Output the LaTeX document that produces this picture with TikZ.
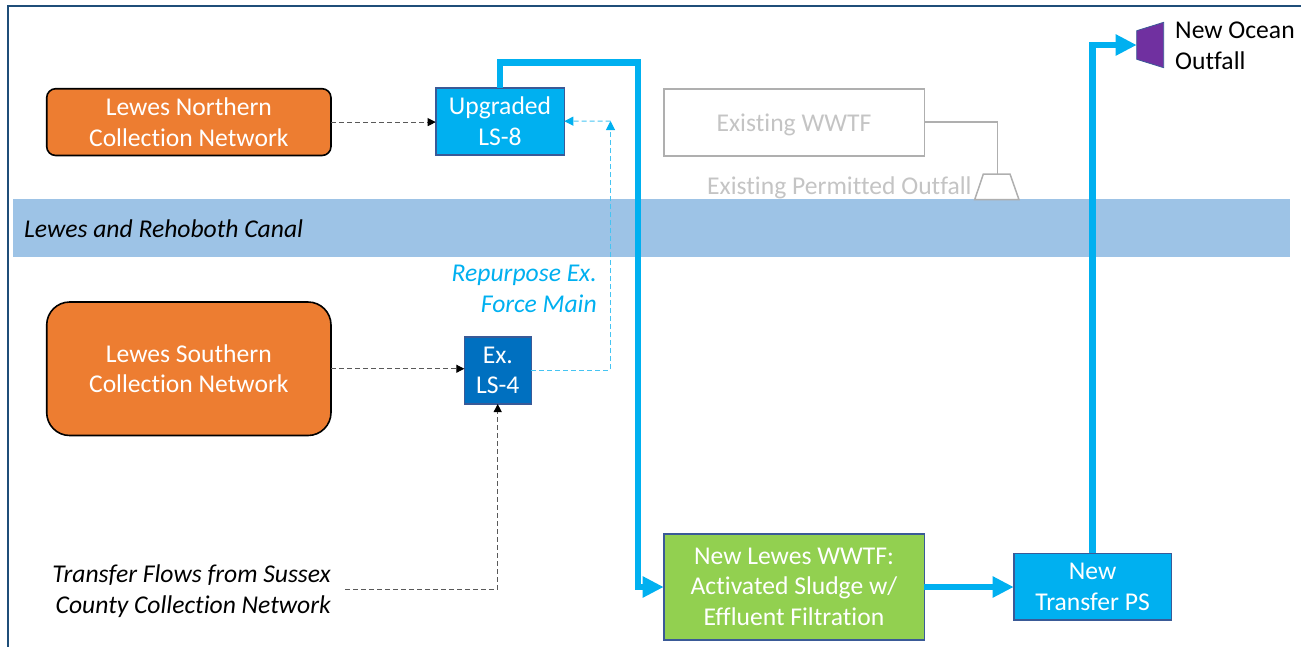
\documentclass[tikz,border=0pt]{standalone}
\usepackage{fontspec}
\setmainfont[Ligatures=NoCommon]{Carlito}
\usetikzlibrary{arrows.meta,calc}
\definecolor{frameblue}{HTML}{1F4E79}
\definecolor{orangebox}{HTML}{ED7D31}
\definecolor{skyblue}{HTML}{00B0F0}
\definecolor{darkblue}{HTML}{0070C0}
\definecolor{greenbox}{HTML}{92D050}
\definecolor{canalblue}{HTML}{9DC3E6}
\definecolor{edgeblue}{HTML}{3A5A97}
\definecolor{ghost}{HTML}{AFAFAF}
\definecolor{ghosttext}{HTML}{C4C4C4}
\definecolor{purplebox}{HTML}{7030A0}
\definecolor{dashblue}{HTML}{45C4F2}
\tikzset{
  x=1pt,y=-1pt,
  txt/.style={font=\fontsize{25.6}{30.5}\selectfont},
  box/.style={txt,draw,line width=1.6pt,align=center,text=white,inner sep=0pt,outer sep=0pt,anchor=north west,execute at begin node={\rule{0pt}{20pt}}},
  thick flow/.style={draw=skyblue,line width=6.2pt,-{Triangle[length=21pt,width=20pt]}},
  thin black/.style={draw=black!65,line width=1pt,dash pattern=on 5pt off 3pt,-{Triangle[length=8pt,width=8pt,color=black]}},
  thin blue/.style={draw=dashblue,line width=1pt,dash pattern=on 5pt off 3pt,-{Triangle[length=9pt,width=9pt,color=skyblue]}},
}
\begin{document}
\begin{tikzpicture}
\useasboundingbox (0,0) rectangle (1301,646);
\draw[frameblue,line width=2pt] (7.5,650) -- (7.5,5.5) -- (1305,5.5);
\node[fill=canalblue,anchor=north west,minimum width=1277pt,minimum height=57.7pt,inner sep=0pt,outer sep=0pt] (canal) at (13,199.3) {};
\node[txt,anchor=west,inner sep=0pt] (canallabel) at (24,229) {\itshape Lewes and Rehoboth Canal};

\node[box,draw=black,fill=orangebox,rounded corners=9pt,minimum width=284.3pt,minimum height=66.8pt] (north) at (46.7,88.7) {Lewes Northern\\Collection Network};
\node[box,draw=black,fill=orangebox,rounded corners=23pt,minimum width=284.3pt,minimum height=133.5pt] (south) at (46.7,302) {Lewes Southern\\Collection Network};
\node[box,draw=edgeblue,fill=skyblue,minimum width=128.6pt,minimum height=67pt] (ls8) at (435.7,87.7) {Upgraded\\LS-8};
\node[box,draw=edgeblue,fill=darkblue,minimum width=67pt,minimum height=67.3pt] (ls4) at (464.3,336.7) {Ex.\\LS-4};
\node[box,draw=ghost,text=ghosttext,minimum width=260.6pt,minimum height=67pt] (oldwwtf) at (663.7,88.7) {\rule{0pt}{22pt}Existing WWTF};
\node[box,draw=edgeblue,fill=greenbox,minimum width=260.6pt,minimum height=105.7pt] (newwwtf) at (663.7,534) {New Lewes WWTF:\\Activated Sludge w/\\Effluent Filtration};
\node[box,draw=edgeblue,fill=skyblue,minimum width=157.8pt,minimum height=66.7pt] (ps) at (1013.7,553.3) {New\\Transfer PS};

\node[txt,anchor=west,inner sep=0pt,text=ghosttext] (oldlabel) at (707,188.3) {Existing Permitted Outfall};
\node[txt,anchor=east,inner sep=0pt,align=right,text=skyblue] (repurpose) at (597,289) {\itshape Repurpose Ex.\\\itshape Force Main};
\node[txt,anchor=east,inner sep=0pt,align=right] (transfer) at (331,591) {\itshape Transfer Flows from Sussex\\\itshape County Collection Network};
\node[txt,anchor=west,inner sep=0pt,align=left] (ocean) at (1175,46) {New Ocean\\Outfall};

% outfalls
\draw[ghost,line width=1.5pt,fill=white] (983.3,174) -- (1010,174) -- (1019,199.7) -- (974.7,199.7) -- cycle;
\coordinate (oldoutfall) at (997.3,174);
\draw[ghost,line width=1.5pt] (oldwwtf.east) -| (oldoutfall);
\draw[edgeblue,line width=.8pt,fill=purplebox] (1136.7,30.7) -- (1163.7,22.3) -- (1163.7,67.7) -- (1136.7,59.3) -- cycle;
\coordinate (newoutfall) at (1136.7,45);

% flows
\draw[thin black] (north.east) -- (ls8.west |- north.east);
\draw[thin black] (south.east) -- (ls4.west |- south.east);
\coordinate (transferstart) at (345,589);
\draw[thin black] (transferstart) -- (497.7,589) -- (497.7,0 |- ls4.south);
\coordinate (bend) at (610.5,121);
\draw[thin blue] (ls4.east |- 0,370) -- (610.5,370) -- (bend);
\draw[thin blue] (bend) -- (ls8.east);
\draw[thick flow] (ls8.north -| 499.7,0) -- (499.7,62.5) -- (638,62.5) -- (638,587) -- (newwwtf.west |- 0,587);
\draw[thick flow] (newwwtf.east |- 0,587) -- (ps.west |- 0,587);
\draw[thick flow] (ps.north -| 1092.5,0) -- (1092.5,45) -- (newoutfall);
\end{tikzpicture}
\end{document}
